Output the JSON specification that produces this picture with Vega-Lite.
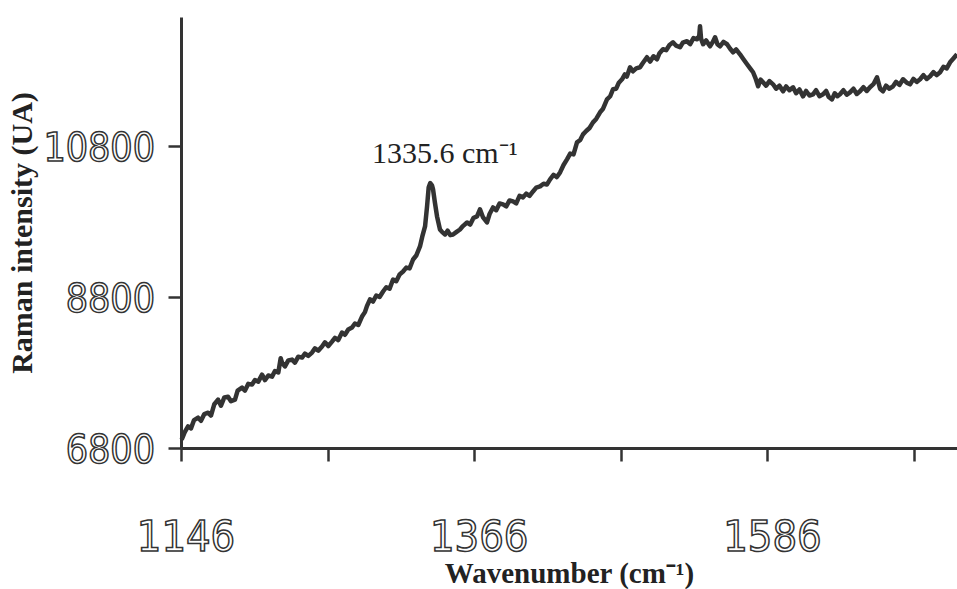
{
  "$schema": "https://vega.github.io/schema/vega-lite/v6.json",
  "width": 776,
  "height": 431,
  "autosize": {"type": "none"},
  "padding": {"left": 181, "top": 17, "right": 0, "bottom": 141},
  "background": "white",
  "config": {"view": {"stroke": null}},
  "datasets": {
    "spectrum": [
      {"wn":1146.5,"intensity":6910},{"wn":1148.8,"intensity":7010},{"wn":1151.3,"intensity":7086},{"wn":1153.5,"intensity":7060},{"wn":1155.8,"intensity":7170},{"wn":1158.8,"intensity":7202},{"wn":1161.0,"intensity":7160},{"wn":1163.5,"intensity":7250},{"wn":1166.3,"intensity":7268},{"wn":1168.5,"intensity":7230},{"wn":1171.0,"intensity":7380},{"wn":1173.8,"intensity":7441},{"wn":1176.0,"intensity":7360},{"wn":1178.5,"intensity":7470},{"wn":1181.3,"intensity":7480},{"wn":1183.5,"intensity":7420},{"wn":1186.5,"intensity":7441},{"wn":1188.5,"intensity":7560},{"wn":1191.8,"intensity":7600},{"wn":1194.0,"intensity":7560},{"wn":1196.5,"intensity":7650},{"wn":1199.3,"intensity":7640},{"wn":1201.5,"intensity":7700},{"wn":1204.0,"intensity":7680},{"wn":1206.8,"intensity":7772},{"wn":1209.0,"intensity":7700},{"wn":1211.5,"intensity":7760},{"wn":1214.3,"intensity":7746},{"wn":1216.5,"intensity":7820},{"wn":1219.0,"intensity":7800},{"wn":1220.8,"intensity":7990},{"wn":1221.8,"intensity":7931},{"wn":1224.0,"intensity":7880},{"wn":1226.5,"intensity":7960},{"wn":1229.3,"intensity":7971},{"wn":1231.5,"intensity":7930},{"wn":1234.0,"intensity":8010},{"wn":1236.8,"intensity":7998},{"wn":1239.0,"intensity":8050},{"wn":1241.5,"intensity":8020},{"wn":1244.3,"intensity":8064},{"wn":1246.5,"intensity":8120},{"wn":1249.0,"intensity":8090},{"wn":1251.8,"intensity":8144},{"wn":1254.0,"intensity":8200},{"wn":1256.5,"intensity":8150},{"wn":1259.3,"intensity":8210},{"wn":1261.5,"intensity":8260},{"wn":1264.0,"intensity":8230},{"wn":1266.8,"intensity":8329},{"wn":1269.0,"intensity":8300},{"wn":1271.5,"intensity":8370},{"wn":1274.3,"intensity":8396},{"wn":1276.5,"intensity":8450},{"wn":1279.0,"intensity":8430},{"wn":1281.8,"intensity":8541},{"wn":1284.0,"intensity":8600},{"wn":1285.5,"intensity":8680},{"wn":1287.8,"intensity":8770},{"wn":1290.0,"intensity":8740},{"wn":1292.5,"intensity":8820},{"wn":1295.0,"intensity":8800},{"wn":1297.6,"intensity":8873},{"wn":1300.0,"intensity":8930},{"wn":1302.5,"intensity":8910},{"wn":1305.1,"intensity":9032},{"wn":1307.5,"intensity":9010},{"wn":1310.0,"intensity":9100},{"wn":1312.6,"intensity":9138},{"wn":1315.0,"intensity":9190},{"wn":1317.5,"intensity":9180},{"wn":1320.1,"intensity":9297},{"wn":1322.5,"intensity":9350},{"wn":1325.3,"intensity":9470},{"wn":1327.0,"intensity":9600},{"wn":1329.1,"intensity":9735},{"wn":1330.6,"intensity":10000},{"wn":1331.8,"intensity":10250},{"wn":1333.0,"intensity":10310},{"wn":1334.3,"intensity":10280},{"wn":1335.1,"intensity":10226},{"wn":1336.5,"intensity":10050},{"wn":1338.1,"intensity":9868},{"wn":1340.3,"intensity":9695},{"wn":1342.0,"intensity":9660},{"wn":1344.1,"intensity":9629},{"wn":1346.0,"intensity":9680},{"wn":1348.0,"intensity":9620},{"wn":1350.1,"intensity":9629},{"wn":1352.5,"intensity":9660},{"wn":1355.3,"intensity":9695},{"wn":1357.5,"intensity":9740},{"wn":1360.6,"intensity":9788},{"wn":1363.0,"intensity":9760},{"wn":1365.5,"intensity":9850},{"wn":1368.1,"intensity":9868},{"wn":1370.3,"intensity":9961},{"wn":1372.5,"intensity":9860},{"wn":1375.6,"intensity":9788},{"wn":1377.5,"intensity":9900},{"wn":1380.1,"intensity":9987},{"wn":1382.5,"intensity":9950},{"wn":1385.0,"intensity":10040},{"wn":1387.6,"intensity":10027},{"wn":1390.0,"intensity":10000},{"wn":1392.5,"intensity":10080},{"wn":1395.1,"intensity":10067},{"wn":1397.5,"intensity":10040},{"wn":1400.0,"intensity":10140},{"wn":1402.6,"intensity":10120},{"wn":1405.0,"intensity":10170},{"wn":1407.5,"intensity":10140},{"wn":1410.1,"intensity":10199},{"wn":1412.5,"intensity":10250},{"wn":1415.4,"intensity":10266},{"wn":1418.0,"intensity":10300},{"wn":1420.5,"intensity":10290},{"wn":1422.9,"intensity":10359},{"wn":1425.5,"intensity":10420},{"wn":1428.0,"intensity":10390},{"wn":1430.4,"intensity":10451},{"wn":1433.0,"intensity":10550},{"wn":1435.6,"intensity":10624},{"wn":1438.0,"intensity":10700},{"wn":1440.5,"intensity":10690},{"wn":1443.1,"intensity":10849},{"wn":1445.5,"intensity":10880},{"wn":1447.6,"intensity":10955},{"wn":1450.0,"intensity":11000},{"wn":1452.5,"intensity":11040},{"wn":1455.1,"intensity":11114},{"wn":1457.5,"intensity":11160},{"wn":1460.4,"intensity":11247},{"wn":1462.5,"intensity":11290},{"wn":1465.6,"intensity":11419},{"wn":1468.0,"intensity":11460},{"wn":1470.1,"intensity":11552},{"wn":1472.5,"intensity":11560},{"wn":1474.5,"intensity":11640},{"wn":1476.9,"intensity":11685},{"wn":1479.0,"intensity":11750},{"wn":1480.5,"intensity":11720},{"wn":1482.9,"intensity":11844},{"wn":1485.0,"intensity":11790},{"wn":1487.5,"intensity":11830},{"wn":1490.4,"intensity":11844},{"wn":1492.5,"intensity":11900},{"wn":1495.6,"intensity":11977},{"wn":1498.0,"intensity":11920},{"wn":1500.5,"intensity":11990},{"wn":1503.1,"intensity":11950},{"wn":1505.0,"intensity":12030},{"wn":1507.6,"intensity":12083},{"wn":1510.0,"intensity":12070},{"wn":1512.5,"intensity":12140},{"wn":1515.1,"intensity":12175},{"wn":1517.5,"intensity":12130},{"wn":1520.4,"intensity":12109},{"wn":1522.5,"intensity":12170},{"wn":1525.6,"intensity":12189},{"wn":1528.0,"intensity":12150},{"wn":1530.5,"intensity":12230},{"wn":1533.2,"intensity":12215},{"wn":1534.8,"intensity":12260},{"wn":1535.4,"intensity":12388},{"wn":1536.2,"intensity":12220},{"wn":1537.7,"intensity":12149},{"wn":1540.0,"intensity":12200},{"wn":1542.9,"intensity":12122},{"wn":1545.0,"intensity":12180},{"wn":1546.7,"intensity":12242},{"wn":1548.5,"intensity":12150},{"wn":1550.4,"intensity":12122},{"wn":1553.0,"intensity":12180},{"wn":1555.7,"intensity":12149},{"wn":1558.0,"intensity":12090},{"wn":1560.2,"intensity":12043},{"wn":1562.5,"intensity":12080},{"wn":1565.4,"intensity":12016},{"wn":1568.0,"intensity":11950},{"wn":1570.7,"intensity":11884},{"wn":1573.0,"intensity":11830},{"wn":1575.2,"intensity":11778},{"wn":1577.0,"intensity":11700},{"wn":1579.0,"intensity":11592},{"wn":1580.8,"intensity":11680},{"wn":1582.7,"intensity":11645},{"wn":1585.0,"intensity":11600},{"wn":1587.5,"intensity":11660},{"wn":1590.2,"intensity":11618},{"wn":1592.5,"intensity":11560},{"wn":1595.0,"intensity":11600},{"wn":1597.7,"intensity":11526},{"wn":1600.0,"intensity":11590},{"wn":1602.5,"intensity":11540},{"wn":1605.2,"intensity":11579},{"wn":1607.5,"intensity":11500},{"wn":1610.0,"intensity":11550},{"wn":1612.7,"intensity":11459},{"wn":1615.0,"intensity":11530},{"wn":1617.5,"intensity":11470},{"wn":1620.2,"intensity":11486},{"wn":1622.5,"intensity":11540},{"wn":1625.0,"intensity":11460},{"wn":1627.7,"intensity":11486},{"wn":1630.0,"intensity":11530},{"wn":1632.0,"intensity":11450},{"wn":1634.4,"intensity":11419},{"wn":1636.5,"intensity":11500},{"wn":1638.5,"intensity":11460},{"wn":1640.4,"intensity":11486},{"wn":1643.0,"intensity":11540},{"wn":1645.5,"intensity":11480},{"wn":1647.9,"intensity":11512},{"wn":1650.5,"intensity":11560},{"wn":1653.0,"intensity":11490},{"wn":1655.4,"intensity":11526},{"wn":1658.0,"intensity":11580},{"wn":1660.5,"intensity":11530},{"wn":1662.9,"intensity":11579},{"wn":1665.5,"intensity":11620},{"wn":1668.2,"intensity":11711},{"wn":1670.5,"intensity":11560},{"wn":1672.7,"intensity":11526},{"wn":1675.0,"intensity":11600},{"wn":1677.5,"intensity":11560},{"wn":1680.2,"intensity":11592},{"wn":1682.5,"intensity":11650},{"wn":1685.0,"intensity":11610},{"wn":1687.7,"intensity":11685},{"wn":1690.5,"intensity":11640},{"wn":1693.0,"intensity":11618},{"wn":1695.5,"intensity":11690},{"wn":1698.0,"intensity":11650},{"wn":1700.5,"intensity":11685},{"wn":1703.0,"intensity":11740},{"wn":1705.5,"intensity":11690},{"wn":1708.0,"intensity":11725},{"wn":1710.5,"intensity":11780},{"wn":1713.0,"intensity":11740},{"wn":1715.5,"intensity":11778},{"wn":1718.0,"intensity":11850},{"wn":1720.5,"intensity":11830},{"wn":1723.0,"intensity":11910},{"wn":1725.5,"intensity":11960},{"wn":1728.2,"intensity":12016}
    ],
    "ylabels": [
      {"intensity": 6800, "label": "6800"},
      {"intensity": 8800, "label": "8800"},
      {"intensity": 10800, "label": "10800"}
    ],
    "xlabels": [
      {"wn": 1146, "label": "1146"},
      {"wn": 1366, "label": "1366"},
      {"wn": 1586, "label": "1586"}
    ],
    "note": [
      {"wn": 1289.3, "intensity": 10571, "label": "1335.6 cm⁻¹"}
    ]
  },
  "layer": [
    {
      "data": {"name": "spectrum"},
      "mark": {"type": "line", "color": "#333333", "strokeWidth": 4.5, "strokeJoin": "round"},
      "encoding": {
        "x": {
          "field": "wn", "type": "quantitative",
          "scale": {"domain": [1146, 1728.2], "nice": false, "zero": false},
          "axis": {
            "values": [1146, 1256, 1366, 1476, 1586, 1696],
            "labels": false, "grid": false,
            "tickSize": 13, "tickWidth": 2.5, "tickColor": "#333333",
            "domainColor": "#333333", "domainWidth": 3,
            "title": "Wavenumber (cm⁻¹)",
            "titleFont": "Liberation Serif", "titleFontSize": 29, "titleFontWeight": "bold",
            "titleColor": "#222222", "titlePadding": 97
          }
        },
        "y": {
          "field": "intensity", "type": "quantitative",
          "scale": {"domain": [6800, 12510], "nice": false, "zero": false},
          "axis": {
            "values": [6800, 8800, 10800],
            "labels": false, "grid": false,
            "tickSize": 13, "tickWidth": 2.5, "tickColor": "#333333",
            "domainColor": "#333333", "domainWidth": 3,
            "title": "Raman intensity (UA)",
            "titleFont": "Liberation Serif", "titleFontSize": 30, "titleFontWeight": "bold",
            "titleColor": "#222222", "titlePadding": 129
          }
        }
      }
    },
    {
      "data": {"name": "ylabels"},
      "mark": {"type": "text", "align": "right", "baseline": "alphabetic", "dx": -26, "dy": 15,
               "font": "DejaVu Sans Condensed, sans-serif", "fontSize": 39,
               "fill": "white", "stroke": "#333333", "strokeWidth": 1.5},
      "encoding": {
        "x": {"datum": 1146, "type": "quantitative"},
        "y": {"field": "intensity", "type": "quantitative"},
        "text": {"field": "label"}
      }
    },
    {
      "data": {"name": "xlabels"},
      "mark": {"type": "text", "align": "center", "baseline": "alphabetic", "dx": 5, "dy": 103,
               "font": "DejaVu Sans Condensed, sans-serif", "fontSize": 43,
               "fill": "white", "stroke": "#333333", "strokeWidth": 1.5},
      "encoding": {
        "x": {"field": "wn", "type": "quantitative"},
        "y": {"datum": 6800, "type": "quantitative"},
        "text": {"field": "label"}
      }
    },
    {
      "data": {"name": "note"},
      "mark": {"type": "text", "align": "left", "baseline": "alphabetic",
               "font": "Liberation Serif", "fontSize": 30, "color": "#222222"},
      "encoding": {
        "x": {"field": "wn", "type": "quantitative"},
        "y": {"field": "intensity", "type": "quantitative"},
        "text": {"field": "label"}
      }
    }
  ]
}
